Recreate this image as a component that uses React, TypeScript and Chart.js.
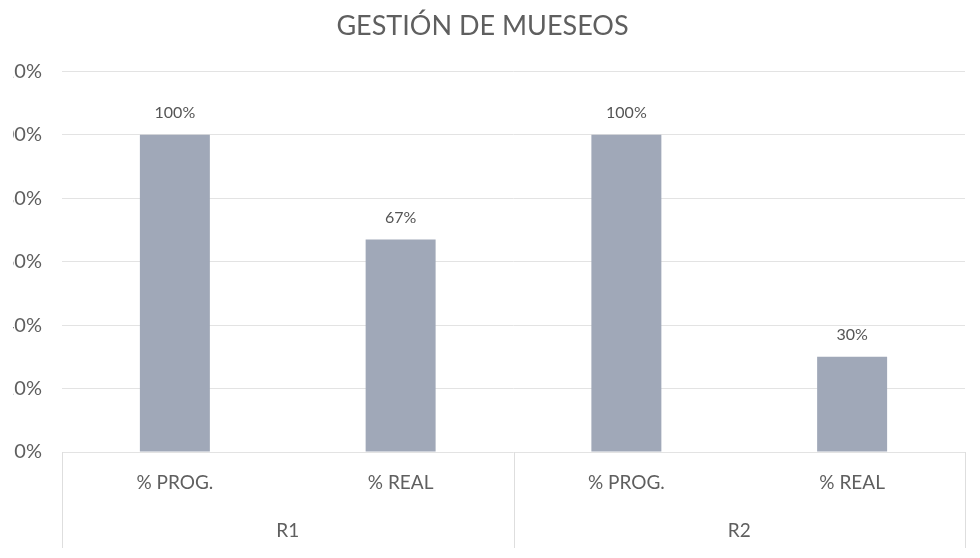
import React, { useEffect, useRef } from "react";
import { Chart, registerables } from "chart.js";

Chart.register(...registerables);

const TITLE = "GESTIÓN DE MUESEOS";
const CATEGORIES = ["% PROG.", "% REAL", "% PROG.", "% REAL"];
const GROUPS = ["R1", "R2"];
const VALUES = [100, 67, 100, 30];
const Y_MIN = 0;
const Y_MAX = 120;
const Y_STEP = 20;

const FONT = "Lato, 'Open Sans', sans-serif";
const TEXT = "#5f5f5f";

const groupLinesPlugin = {
  id: "groupLines",
  afterDraw(chart: any) {
    const x2 = chart.scales.x2;
    const area = chart.chartArea;
    if (!x2) return;
    const ctx = chart.ctx;
    const n = GROUPS.length;
    const w = (x2.right - x2.left) / n;
    ctx.save();
    ctx.strokeStyle = "#dedede";
    ctx.lineWidth = 1;
    for (let i = 0; i <= n; i++) {
      const px = Math.round(x2.getPixelForValue(Math.min(i, n - 1)) + (i === n ? w / 2 : -w / 2)) + 0.5;
      ctx.beginPath();
      ctx.moveTo(px, area.bottom);
      ctx.lineTo(px, x2.bottom + 6);
      ctx.stroke();
    }
    ctx.restore();
  },
};

const valueLabelPlugin = {
  id: "valueLabels",
  afterDatasetsDraw(chart: any) {
    const ctx = chart.ctx;
    const meta = chart.getDatasetMeta(0);
    ctx.save();
    ctx.font = `16px ${FONT}`;
    ctx.fillStyle = "#555555";
    ctx.textAlign = "center";
    ctx.textBaseline = "middle";
    meta.data.forEach((el: any, i: number) => {
      ctx.fillText(`${VALUES[i]}%`, el.x, el.y - 22);
    });
    ctx.restore();
  },
};

export default function App() {
  const ref = useRef<HTMLCanvasElement>(null);

  useEffect(() => {
    if (!ref.current) return;
    const chart = new Chart(ref.current, {
      type: "bar",
      data: {
        labels: CATEGORIES,
        datasets: [
          {
            data: VALUES,
            backgroundColor: "#a0a8b8",
            borderWidth: 0,
            categoryPercentage: 1,
            barPercentage: 0.31,
            xAxisID: "x",
          },
        ],
      },
      options: {
        animation: false,
        responsive: false,
        layout: { padding: { left: 30, right: 15, top: 0, bottom: 16 } },
        plugins: {
          legend: { display: false },
          tooltip: { enabled: false },
          title: {
            display: true,
            text: TITLE,
            color: TEXT,
            font: { family: FONT, size: 27, weight: "normal" },
            padding: { top: 10, bottom: 29 },
          },
        },
        scales: {
          y: {
            min: Y_MIN,
            max: Y_MAX,
            ticks: {
              stepSize: Y_STEP,
              padding: 20,
              color: TEXT,
              font: { family: FONT, size: 20 },
              callback: (v: any) => `${v}%`,
            },
            grid: { color: "#e3e3e3", drawTicks: false },
            border: { display: false },
            afterFit: (s: any) => {
              s.width = 62;
            },
          },
          x: {
            type: "category",
            labels: CATEGORIES,
            grid: { display: false, drawTicks: false, tickLength: 0 },
            border: { display: false },
            ticks: {
              padding: 19,
              color: TEXT,
              font: { family: FONT, size: 19 },
              maxRotation: 0,
            },
            afterFit: (s: any) => {
              s.height = 44;
            },
          },
          x2: {
            type: "category",
            position: "bottom",
            labels: GROUPS,
            offset: true,
            grid: { display: false, drawTicks: false, tickLength: 0 },
            border: { display: false },
            ticks: {
              padding: 23,
              color: TEXT,
              font: { family: FONT, size: 19 },
              maxRotation: 0,
            },
            afterFit: (s: any) => {
              s.height = 46;
            },
          },
        },
      },
      plugins: [groupLinesPlugin, valueLabelPlugin],
    });
    return () => chart.destroy();
  }, []);

  return (
    <div
      style={{
        position: "absolute",
        left: 13,
        top: 0,
        width: 967,
        height: 558,
        overflow: "hidden",
        background: "#fff",
      }}
    >
      <div style={{ position: "absolute", left: -43, top: 0, width: 1010, height: 558 }}>
        <canvas ref={ref} width={1010} height={558} style={{ display: "block" }} />
      </div>
    </div>
  );
}
